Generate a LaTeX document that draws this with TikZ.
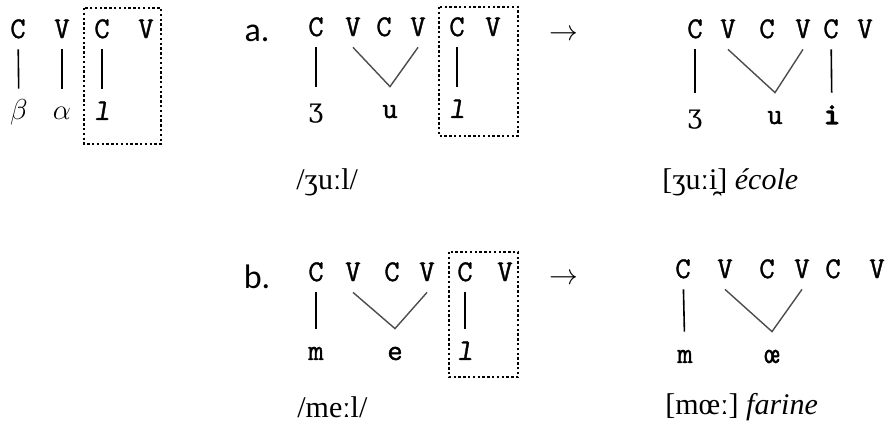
\documentclass[tikz,border=0pt]{standalone}
\usepackage{fontspec}
\setmainfont{Liberation Serif}
\newfontfamily\cvfont[FakeBold=1.2, SlantedFont={Latin Modern Mono Slanted},
  SlantedFeatures={FakeBold=1.2}, BoldFont={Latin Modern Mono},
  BoldFeatures={FakeBold=5}]{Latin Modern Mono}
\newfontfamily\ipafont{DejaVu Serif}
\newfontfamily\labfont{Carlito}

\begin{document}
\begin{tikzpicture}[x=0.5pt, y=-0.5pt,
  cv/.style={font=\cvfont\fontsize{15}{17}\selectfont, inner sep=0pt,
    text height=8pt, text depth=0pt},
  seg/.style={font=\cvfont\fontsize{15}{17}\selectfont, inner sep=0pt,
    text height=5pt, text depth=0pt},
  lab/.style={font=\labfont\fontsize{17}{20}\selectfont, inner sep=0pt},
  tr/.style={font=\fontsize{15}{17}\selectfont, anchor=west, inner sep=0pt},
  goes/.style={font=\fontsize{14}{16}\selectfont, inner sep=0pt},
  link/.style={line width=.8pt, shorten <=5.5pt, shorten >=10.5pt},
  vlink/.style={line width=.7pt, black!70},
  dotbox/.style={draw, line width=.8pt, dash pattern=on 1.2pt off 1.2pt}]
\useasboundingbox (0,0) rectangle (889,421);
\node[cv] (l1) at (18,30) {C};
\node[cv] (l2) at (62,30) {V};
\node[cv] (l3) at (102,30) {C};
\node[cv] (l4) at (146,30) {V};
\node[seg, font=\fontsize{15}{17}\selectfont] (lb) at (19,115) {$\beta$};
\node[seg, font=\fontsize{15}{17}\selectfont] (la) at (62,115) {$\alpha$};
\node[seg] (ll) at (102,115) {\slshape l};
\draw[link] (l1) -- (lb);
\draw[link] (l2) -- (la);
\draw[link] (l3) -- (ll);
\draw[dotbox] (84,8) rectangle (161,144);

\node[lab] (lbla) at (257,33) {a.};
\node[cv] (a1) at (316,28) {C};
\node[cv] (a2) at (353,28) {V};
\node[cv] (a3) at (384,28) {C};
\node[cv] (a4) at (418,28) {V};
\node[cv] (a5) at (457,28) {C};
\node[cv] (a6) at (493,28) {V};
\node[seg] (az) at (316,113) {\ipafont\fontsize{13}{15}\selectfont ʒ};
\node[seg] (au) at (390,113) {u};
\node[seg] (al) at (457,113) {\slshape l};
\draw[link] (a1) -- (az);
\draw[vlink] ([yshift=-5.5pt]a2.south) -- ([yshift=10.5pt]au.north) -- ([yshift=-5.5pt]a4.south);
\draw[link] (a5) -- (al);
\draw[dotbox] (439,7) rectangle (518,136);
\node[goes] (arra) at (564,35) {$\rightarrow$};
\node[cv] (x1) at (695,30) {C};
\node[cv] (x2) at (728,30) {V};
\node[cv] (x3) at (767,30) {C};
\node[cv] (x4) at (803,30) {V};
\node[cv] (x5) at (831,30) {C};
\node[cv] (x6) at (865,30) {V};
\node[seg] (xz) at (695,119) {\ipafont\fontsize{13}{15}\selectfont ʒ};
\node[seg] (xu) at (775,119) {u};
\node[seg] (xi) at (832,119) {\bfseries i};
\draw[link] (x1) -- (xz);
\draw[vlink] ([yshift=-5.5pt]x2.south) -- ([yshift=10.5pt]xu.north) -- ([yshift=-5.5pt]x4.south);
\draw[link] (x5) -- (xi);
\node[tr] (tra) at (296,182) {/ʒuːl/};
\node[tr] (trx) at (662,182) {[ʒuːi̯] \textit{école}};

\node[lab] (lblb) at (257,277) {b.};
\node[cv] (b1) at (316,273) {C};
\node[cv] (b2) at (353,273) {V};
\node[cv] (b3) at (392,273) {C};
\node[cv] (b4) at (427,273) {V};
\node[cv] (b5) at (465,273) {C};
\node[cv] (b6) at (505,273) {V};
\node[seg] (bm) at (316,355) {m};
\node[seg] (be) at (395,355) {e};
\node[seg] (bl) at (465,355) {\slshape l};
\draw[link] (b1) -- (bm);
\draw[vlink] ([yshift=-5.5pt]b2.south) -- ([yshift=10.5pt]be.north) -- ([yshift=-5.5pt]b4.south);
\draw[link] (b5) -- (bl);
\draw[dotbox] (449,252) rectangle (518,377);
\node[goes] (arrb) at (564,279) {$\rightarrow$};
\node[cv] (y1) at (683,270) {C};
\node[cv] (y2) at (725,270) {V};
\node[cv] (y3) at (767,270) {C};
\node[cv] (y4) at (802,270) {V};
\node[cv] (y5) at (833,270) {C};
\node[cv] (y6) at (877,270) {V};
\node[seg] (ym) at (685,358) {m};
\node[seg] (yo) at (772,358) {œ};
\draw[link] (y1) -- (ym);
\draw[vlink] ([yshift=-5.5pt]y2.south) -- ([yshift=10.5pt]yo.north) -- ([yshift=-5.5pt]y4.south);
\node[tr] (trb) at (297,407) {/meːl/};
\node[tr] (try) at (665,407) {[mœː] \textit{farine}};
\end{tikzpicture}
\end{document}
